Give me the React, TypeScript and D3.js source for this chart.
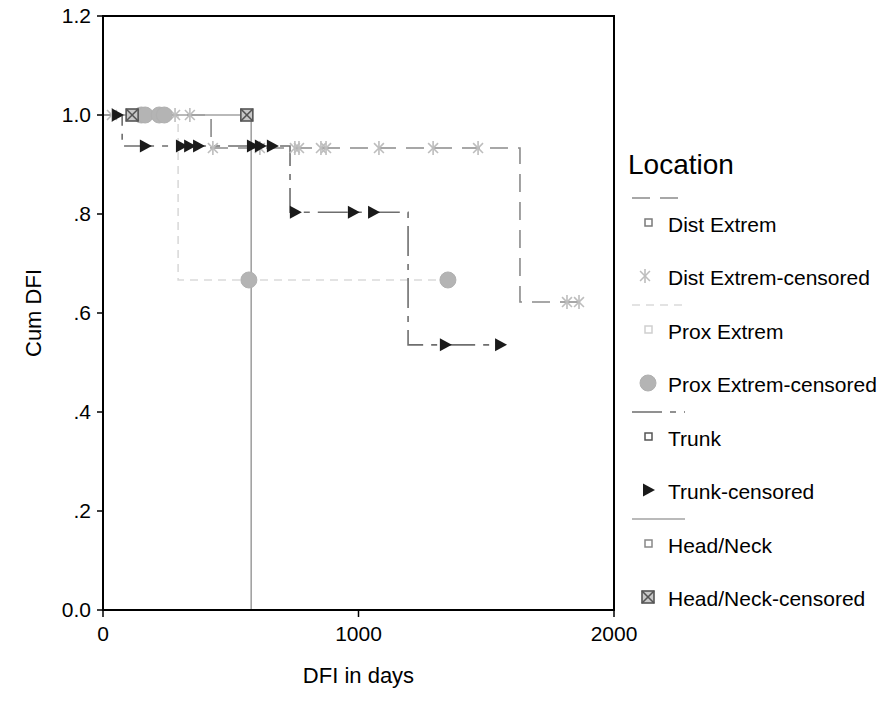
import React from "react";
import * as d3 from "d3";

// ---------- data ----------
const xTicks = [0, 1000, 2000];
const yTicks = [0, 0.2, 0.4, 0.6, 0.8, 1.0, 1.2];
const yTickLabels = ["0.0", ".2", ".4", ".6", ".8", "1.0", "1.2"];

const distEventDays = [423, 1632];
const distSurvival = [0.9333, 0.6222];
const distEndDay = 1863;
const distCensoredDays = [35, 165, 215, 282, 340, 430, 614, 751, 767, 853, 873, 1080, 1292, 1468, 1816, 1863];

const proxEventDays = [294];
const proxSurvival = [0.6667];
const proxEndDay = 1350;
const proxCensoredDays = [150, 165, 220, 240, 571, 1350];

const trunkEventDays = [75, 732, 1194];
const trunkSurvival = [0.9375, 0.8036, 0.5357];
const trunkEndDay = 1554;
const trunkCensoredDays = [55, 164, 305, 337, 372, 583, 614, 661, 751, 978, 1057, 1338, 1554];

const headEventDays = [580];
const headSurvival = [0];
const headEndDay = 580;
const headCensoredDays = [114, 563];

const groupNames = ["Dist Extrem", "Prox Extrem", "Trunk", "Head/Neck"];

// ---------- layout ----------
const W = 880;
const H = 713;
const FONT = "'Liberation Sans', Arial, sans-serif";

const x = d3.scaleLinear().domain([0, 2000]).range([103, 614]);
const y = d3.scaleLinear().domain([0, 1.2]).range([610, 16]);

type Style = { line: string; dash: string; marker: string; mStroke: string; mFill: string; sq: string };
const styles: Style[] = [
  { line: "#8a8a8a", dash: "18,10", marker: "star", mStroke: "#bdbdbd", mFill: "none", sq: "#7a7a7a" },
  { line: "#dadada", dash: "8,6", marker: "circle", mStroke: "#b0b0b0", mFill: "#b4b4b4", sq: "#cfcfcf" },
  { line: "#6e6e6e", dash: "30,8,6,8", marker: "tri", mStroke: "#1a1a1a", mFill: "#1a1a1a", sq: "#555" },
  { line: "#a3a3a3", dash: "", marker: "xbox", mStroke: "#555", mFill: "#c8c8c8", sq: "#888" },
];

function survAt(t: number, ev: number[], sv: number[]) {
  let s = 1;
  ev.forEach((e, i) => {
    if (e <= t) s = sv[i];
  });
  return s;
}

function stepPoints(ev: number[], sv: number[], end: number): [number, number][] {
  const pts: [number, number][] = [[0, 1]];
  ev.forEach((e, i) => pts.push([e, sv[i]]));
  const last = pts[pts.length - 1];
  if (end > last[0]) pts.push([end, last[1]]);
  return pts;
}

const lineGen = d3
  .line<[number, number]>()
  .x((d) => x(d[0]))
  .y((d) => y(d[1]))
  .curve(d3.curveStepAfter);

function Marker({ kind, cx, cy, st }: { kind: string; cx: number; cy: number; st: Style }) {
  if (kind === "star") {
    const r = 7;
    const arms = [90, 45, -45].map((a) => (a * Math.PI) / 180);
    return (
      <g stroke={st.mStroke} strokeWidth={1.6}>
        {arms.map((a, i) => (
          <line key={i} x1={cx - r * Math.cos(a)} y1={cy - r * Math.sin(a)} x2={cx + r * Math.cos(a)} y2={cy + r * Math.sin(a)} />
        ))}
      </g>
    );
  }
  if (kind === "circle") {
    return <circle cx={cx} cy={cy} r={8} fill={st.mFill} stroke={st.mStroke} strokeWidth={1} />;
  }
  if (kind === "tri") {
    return <path d={`M${cx - 5},${cy - 6.5}L${cx + 7},${cy}L${cx - 5},${cy + 6.5}Z`} fill={st.mFill} />;
  }
  if (kind === "xbox") {
    const h = 6;
    return (
      <g stroke={st.mStroke} strokeWidth={1.6}>
        <rect x={cx - h} y={cy - h} width={2 * h} height={2 * h} fill={st.mFill} />
        <line x1={cx - h} y1={cy - h} x2={cx + h} y2={cy + h} />
        <line x1={cx - h} y1={cy + h} x2={cx + h} y2={cy - h} />
      </g>
    );
  }
  return null;
}

export default function App() {
  const groups = [
    { ev: distEventDays, sv: distSurvival, end: distEndDay, cens: distCensoredDays },
    { ev: proxEventDays, sv: proxSurvival, end: proxEndDay, cens: proxCensoredDays },
    { ev: trunkEventDays, sv: trunkSurvival, end: trunkEndDay, cens: trunkCensoredDays },
    { ev: headEventDays, sv: headSurvival, end: headEndDay, cens: headCensoredDays },
  ];

  const legendX = 632;
  const legendLineY0 = 198;
  const groupStep = 107;

  return (
    <svg width={W} height={H} style={{ position: "absolute", left: 0, top: 0, background: "#fff" }} fontFamily={FONT}>
      {/* lines */}
      {groups.map((g, i) => (
        <path
          key={"l" + i}
          d={lineGen(stepPoints(g.ev, g.sv, g.end)) || ""}
          fill="none"
          stroke={styles[i].line}
          strokeWidth={1.6}
          strokeDasharray={styles[i].dash || undefined}
        />
      ))}
      {/* censored markers */}
      {groups.map((g, i) => (
        <g key={"m" + i}>
          {g.cens.map((t, j) => (
            <Marker key={j} kind={styles[i].marker} cx={x(t)} cy={y(survAt(t, g.ev, g.sv))} st={styles[i]} />
          ))}
        </g>
      ))}

      {/* frame */}
      <rect x={x(0)} y={y(1.2)} width={x(2000) - x(0)} height={y(0) - y(1.2)} fill="none" stroke="#000" strokeWidth={2} />

      {/* y axis */}
      {yTicks.map((v, i) => (
        <g key={"y" + i}>
          <line x1={x(0) - 6} x2={x(0)} y1={y(v)} y2={y(v)} stroke="#000" strokeWidth={1.5} />
          <text x={x(0) - 12} y={y(v)} dy="0.35em" textAnchor="end" fontSize={21} fill="#000">
            {yTickLabels[i]}
          </text>
        </g>
      ))}
      {/* x axis */}
      {xTicks.map((v, i) => (
        <g key={"x" + i}>
          <line x1={x(v)} x2={x(v)} y1={y(0)} y2={y(0) + 7} stroke="#000" strokeWidth={1.5} />
          <text x={x(v)} y={641} textAnchor="middle" fontSize={21} fill="#000">
            {String(v)}
          </text>
        </g>
      ))}

      <text transform={`translate(41,${(y(0) + y(1.2)) / 2}) rotate(-90)`} textAnchor="middle" fontSize={22} fill="#000">
        Cum DFI
      </text>
      <text x={(x(0) + x(2000)) / 2} y={683} textAnchor="middle" fontSize={22} fill="#000">
        DFI in days
      </text>

      {/* legend */}
      <text x={628} y={174} fontSize={28} fill="#000">
        Location
      </text>
      {groupNames.map((name, i) => {
        const ly = legendLineY0 + i * groupStep;
        const st = styles[i];
        const b1 = ly + 34;
        const b2 = ly + 87;
        return (
          <g key={"lg" + i}>
            <line
              x1={legendX}
              x2={legendX + 53}
              y1={ly}
              y2={ly}
              stroke={st.line}
              strokeWidth={1.6}
              strokeDasharray={st.dash || undefined}
            />
            <rect x={645} y={b1 - 13} width={7} height={7} fill="#fff" stroke={st.sq} strokeWidth={1.5} />
            <text x={668} y={b1} fontSize={21} fill="#000">
              {name}
            </text>
            <Marker kind={st.marker} cx={st.marker === "star" ? 645 : 648} cy={b2 - 9} st={st} />
            <text x={668} y={b2} fontSize={21} fill="#000">
              {name + "-censored"}
            </text>
          </g>
        );
      })}
    </svg>
  );
}
